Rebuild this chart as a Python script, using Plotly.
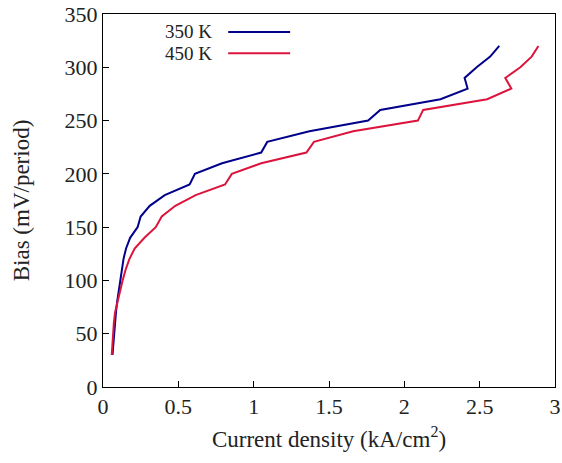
import plotly.graph_objects as go

bias = [30, 40, 50, 60, 70, 80, 90, 100, 110, 120, 130, 140, 150, 160, 170, 180, 190,
        200, 210, 220, 230, 240, 250, 260, 270, 280, 290, 300, 310, 320]
j_350 = [0.063, 0.068, 0.073, 0.079, 0.086, 0.094, 0.104, 0.114, 0.124, 0.136, 0.153, 0.18,
         0.23, 0.25, 0.31, 0.41, 0.575, 0.61, 0.79, 1.05, 1.09, 1.37, 1.76, 1.84, 2.24,
         2.42, 2.40, 2.48, 2.57, 2.63]
j_450 = [0.058, 0.062, 0.067, 0.072, 0.08, 0.095, 0.11, 0.13, 0.15, 0.175, 0.21, 0.275,
         0.35, 0.39, 0.48, 0.615, 0.81, 0.855, 1.05, 1.35, 1.40, 1.66, 2.09, 2.125, 2.55,
         2.71, 2.67, 2.77, 2.845, 2.89]
series_names = ["350 K", "450 K"]
colors = ["#00008B", "#DC143C"]
x_ticks = [0, 0.5, 1, 1.5, 2, 2.5, 3]
y_ticks = [0, 50, 100, 150, 200, 250, 300, 350]

FONT = "Liberation Serif"
TXT = "#222222"
fig = go.Figure()
for name, xs, c in zip(series_names, [j_350, j_450], colors):
    fig.add_trace(go.Scatter(x=xs, y=bias, mode="lines", name=name,
                             line=dict(color=c, width=2), showlegend=False))

# custom legend (text left of sample line)
leg_y = [0.952, 0.895]
for name, c, yy in zip(series_names, colors, leg_y):
    fig.add_annotation(xref="paper", yref="paper", x=0.243, y=yy, text=name,
                       showarrow=False, xanchor="right", yanchor="middle",
                       borderpad=0, font=dict(family=FONT, size=19, color=TXT))
    fig.add_shape(type="line", xref="paper", yref="paper", x0=0.277, x1=0.414,
                  y0=yy, y1=yy, line=dict(color=c, width=2))

axis_common = dict(showline=True, linecolor="black", linewidth=1, mirror=True,
                   ticks="inside", ticklen=6, tickcolor="black", showgrid=False,
                   zeroline=False, automargin=False,
                   tickfont=dict(family=FONT, size=22, color=TXT))
fig.update_xaxes(range=[0, 3], tickvals=x_ticks, ticktext=[str(v) for v in x_ticks],
                 title=dict(text="Current density (kA/cm<sup>2</sup>)",
                            font=dict(family=FONT, size=23, color=TXT), standoff=12),
                 **axis_common)
fig.update_yaxes(range=[0, 350], tickvals=y_ticks,
                 title=dict(text="Bias (mV/period)",
                            font=dict(family=FONT, size=23, color=TXT), standoff=28),
                 **axis_common)
fig.update_layout(width=562, height=463, margin=dict(l=103, r=7, t=14, b=76),
                  plot_bgcolor="white", paper_bgcolor="white")
fig.write_html("out.html")
